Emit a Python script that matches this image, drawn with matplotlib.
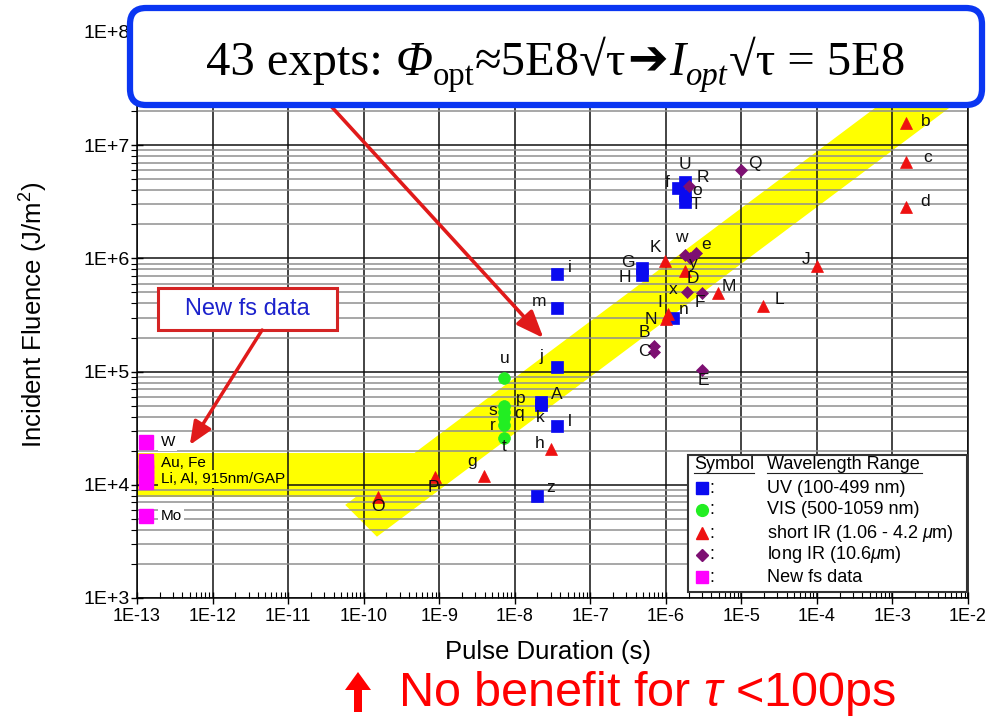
import numpy as np
import matplotlib
matplotlib.use("Agg")
import matplotlib.pyplot as plt
from matplotlib import ticker
from matplotlib.patches import FancyBboxPatch, Rectangle, FancyArrow
from matplotlib.transforms import IdentityTransform

plt.rcParams['font.family'] = ['Liberation Sans', 'DejaVu Sans']
plt.rcParams['mathtext.fontset'] = 'custom'
plt.rcParams['mathtext.rm'] = 'Liberation Sans'
plt.rcParams['mathtext.it'] = 'Liberation Sans:italic'

# --- experiments: pulse duration (s), incident fluence (J/m^2), tag ---
uv_names = ['i', 'm', 'j', 'A', 'k', 'l', 'z', 'G', 'H', 'n', 'U', 'f', 'o', 'T']
uv_tau = [3.65e-8, 3.65e-8, 3.65e-8, 2.2e-8, 2.2e-8, 3.65e-8, 2.0e-8,
          4.9e-7, 4.9e-7, 1.26e-6, 1.8e-6, 1.47e-6, 1.8e-6, 1.8e-6]
uv_flu = [7.3e5, 3.65e5, 1.1e5, 5.4e4, 5.1e4, 3.3e4, 8.0e3,
          8.2e5, 7.2e5, 3.0e5, 4.7e6, 4.2e6, 3.6e6, 3.15e6]

vis_names = ['u', 'p', 's', 'q', 'r', 't']
vis_tau = [7.3e-9, 7.3e-9, 7.3e-9, 7.3e-9, 7.3e-9, 7.3e-9]
vis_flu = [8.8e4, 5.0e4, 4.4e4, 3.9e4, 3.4e4, 2.6e4]

sir_names = ['b', 'c', 'd', 'J', 'K', 'D', 'M', 'L', 'I', 'N', 'h', 'g', 'P', 'O', 'S']
sir_tau = [1.53e-3, 1.53e-3, 1.53e-3, 1.0e-4, 9.8e-7, 1.8e-6, 4.95e-6, 1.95e-5,
           1.08e-6, 1.0e-6, 3.04e-8, 3.95e-9, 8.9e-10, 1.56e-10, 1.0e-4]
sir_flu = [1.57e7, 7.1e6, 2.85e6, 8.6e5, 9.5e5, 7.7e5, 4.9e5, 3.8e5,
           3.2e5, 2.9e5, 2.07e4, 1.2e4, 1.17e4, 7.8e3, 2.8e7]

lir_names = ['Q', 'R', 'w', 'e', 'y', 'x', 'F', 'B', 'C', 'E']
lir_tau = [1.0e-5, 2.0e-6, 1.8e-6, 2.5e-6, 2.1e-6, 1.93e-6, 3.04e-6, 7.05e-7, 7.05e-7, 3.04e-6]
lir_flu = [6.0e6, 4.4e6, 1.07e6, 1.12e6, 1.0e6, 5.05e5, 4.9e5, 1.68e5, 1.49e5, 1.03e5]

fs_names = ['W', 'Au', 'Fe', 'Li', 'Al', 'GAP', 'Mo']
fs_tau = [1.3e-13, 1.3e-13, 1.3e-13, 1.3e-13, 1.3e-13, 1.3e-13, 1.3e-13]
fs_flu = [2.4e4, 1.62e4, 1.45e4, 1.3e4, 1.18e4, 1.06e4, 5.3e3]
fs_text = {'W': 'W', 'Au': 'Au, Fe', 'Li': 'Li, Al, 915nm/GAP', 'Mo': 'Mo'}

legend_labels = ['UV (100-499 nm)', 'VIS (500-1059 nm)', r'short IR (1.06 - 4.2 $\mu$m)',
                 r'long IR (10.6$\mu$m)', 'New fs data']

# optimum fluence line: Phi = 5E8 * sqrt(tau)
phi_coef = 5e8
band_factor = 1.76
band_start_upper = 5.7e-11   # the band's lower-left end is cut at a slant
band_start_lower = 1.5e-10

# tag placement (pixels from the marker, y up)
tag_offsets = {
    'i': (13, 6), 'm': (-18, 6), 'j': (-16, 10), 'A': (16, 7), 'k': (0, -13), 'l': (13, 5),
    'z': (13, 8), 'G': (-15, 6), 'H': (-18, -3), 'n': (10, 8), 'U': (0, 18), 'f': (-11, 5),
    'o': (12, 5), 'T': (11, -3),
    'u': (0, 19), 'p': (16, 7), 's': (-12, 1), 'q': (15, 4), 'r': (-12, -1), 't': (0, -9),
    'b': (19, 2), 'c': (21, 5), 'd': (19, 5), 'J': (-11, 6), 'K': (-10, 13), 'D': (8, -7),
    'M': (11, 7), 'L': (16, 6), 'I': (-9, 12), 'N': (-15, 0), 'h': (-12, 6), 'g': (-12, 14),
    'P': (-2, -10), 'O': (0, -9), 'S': (5, -8),
    'Q': (14, 7), 'R': (14, 8), 'w': (-4, 18), 'e': (10, 8), 'y': (3, -5), 'x': (-14, 2),
    'F': (-2, -9), 'B': (-10, 14), 'C': (-10, 0), 'E': (1, -10),
}

BLUE = '#0a0af0'
GREEN = '#22ee22'
RED = '#ee1111'
PURPLE = '#7d0f72'
MAGENTA = '#ff00ff'
YELLOW = '#ffff00'

fig = plt.figure(figsize=(9.91, 7.2), dpi=100)
ax = fig.add_axes([137 / 991, 122 / 720, 831 / 991, 566 / 720])
ax.set_xscale('log')
ax.set_yscale('log')
ax.set_xlim(1e-13, 1e-2)
ax.set_ylim(1e3, 1e8)

fmt = ticker.FuncFormatter(lambda v, pos: f"1E{int(round(np.log10(v))):+d}")
ax.xaxis.set_major_locator(ticker.LogLocator(base=10, numticks=20))
ax.xaxis.set_minor_locator(ticker.LogLocator(base=10, subs=np.arange(2, 10), numticks=200))
ax.yaxis.set_major_locator(ticker.LogLocator(base=10, numticks=20))
ax.yaxis.set_minor_locator(ticker.LogLocator(base=10, subs=np.arange(2, 10), numticks=200))
ax.xaxis.set_major_formatter(fmt)
ax.yaxis.set_major_formatter(fmt)
ax.xaxis.set_minor_formatter(ticker.NullFormatter())
ax.yaxis.set_minor_formatter(ticker.NullFormatter())
ax.tick_params(axis='x', which='major', direction='inout', length=8, width=1, labelsize=13, pad=3)
ax.tick_params(axis='x', which='minor', direction='in', length=4, width=0.8)
ax.tick_params(axis='y', which='major', direction='inout', length=8, width=1, labelsize=14, pad=1)
ax.tick_params(axis='y', which='minor', direction='out', length=4, width=0.8)

ax.set_axisbelow(True)
ax.grid(which='major', axis='both', color='#111111', lw=1.1)
ax.grid(which='minor', axis='y', color='#8f8f8f', lw=1.1)
for sp in ax.spines.values():
    sp.set_linewidth(1.1)

# yellow band around the optimum line plus the flat fs region
tau_up = np.logspace(np.log10(band_start_upper), -2, 60)
tau_lo = np.logspace(np.log10(band_start_lower), -2, 60)
band_x = np.concatenate([tau_up, tau_lo[::-1]])
band_y = np.concatenate([phi_coef * np.sqrt(tau_up) * band_factor,
                         phi_coef * np.sqrt(tau_lo[::-1]) / band_factor])
ax.fill(band_x, band_y, color=YELLOW, lw=0, zorder=0.3)
ax.fill_between([1e-13, 5e-10], [7.8e3, 7.8e3], [1.9e4, 1.9e4], color=YELLOW, lw=0, zorder=0.3)


def plot_group(tau, flu, names, marker, color, ms):
    ax.plot(tau, flu, ls='none', marker=marker, ms=ms, color=color, mec=color, mew=0.5, zorder=4)
    for t, f, n in zip(tau, flu, names):
        if n not in tag_offsets:
            continue
        dx, dy = tag_offsets[n]
        ax.annotate(n, (t, f), xytext=(dx, dy), textcoords='offset pixels',
                    ha='center', va='center', fontsize=12.5, color='#111111', zorder=5)


plot_group(uv_tau, uv_flu, uv_names, 's', BLUE, 8.5)
plot_group(vis_tau, vis_flu, vis_names, 'o', GREEN, 8.5)
plot_group(sir_tau, sir_flu, sir_names, '^', RED, 8.5)
plot_group(lir_tau, lir_flu, lir_names, 'D', PURPLE, 6.3)
ax.plot(fs_tau, fs_flu, ls='none', marker='s', ms=9.5, color=MAGENTA, zorder=4)
for t, f, n in zip(fs_tau, fs_flu, fs_names):
    if n not in fs_text:
        continue
    dy = {'W': 0, 'Au': -2, 'Li': -7, 'Mo': 0}[n]
    bg = YELLOW if n in ('Au', 'Li') else 'white'
    ax.annotate(fs_text[n], (t, f), xytext=(15, dy), textcoords='offset pixels',
                ha='left', va='center', fontsize=11, zorder=5,
                bbox=dict(boxstyle='square,pad=0.15', fc=bg, ec='none'))

# "New fs data" call-out
ax.add_patch(Rectangle((0.0253, 0.4735), 0.2154, 0.0742, transform=ax.transAxes,
                       fc='white', ec='#d42424', lw=2.2, zorder=6))
ax.text(0.133, 0.511, 'New fs data', transform=ax.transAxes, ha='center', va='center',
        fontsize=17, color='#1c22cc', zorder=7)
ax.annotate('', xy=(5.0e-13, 2.25e4), xytext=(4.53e-12, 2.33e5),
            arrowprops=dict(arrowstyle='-|>,head_length=0.7,head_width=0.3', color='#e01a1a',
                            lw=2.5, mutation_scale=20, shrinkA=0, shrinkB=0), zorder=6)

# arrow from the headline box down to the band
ax.annotate('', xy=(2.4e-8, 1.98e5), xytext=(1.06e-11, 5.5e7),
            arrowprops=dict(arrowstyle='-|>,head_length=0.75,head_width=0.3', color='#e01a1a',
                            lw=2.6, mutation_scale=22, shrinkA=0, shrinkB=0),
            annotation_clip=False, zorder=6)

# legend drawn by hand: symbol column + wavelength column
lx0, lx1, ly0, ly1 = 0.663, 0.9988, 0.0106, 0.2527
ax.add_patch(Rectangle((lx0, ly0), lx1 - lx0, ly1 - ly0, transform=ax.transAxes,
                       fc='white', ec='#333333', lw=1.5, zorder=6))
ax.text(0.6705, 0.2367, 'Symbol', transform=ax.transAxes, ha='left', va='center', fontsize=13, zorder=7)
ax.text(0.7581, 0.2367, 'Wavelength Range', transform=ax.transAxes, ha='left', va='center',
        fontsize=13, zorder=7)
ax.plot([0.6705, 0.7425], [0.2215, 0.2215], transform=ax.transAxes, color='#222222', lw=0.8,
        clip_on=False, zorder=7)
ax.plot([0.7581, 0.9445], [0.2215, 0.2215], transform=ax.transAxes, color='#222222', lw=0.8,
        clip_on=False, zorder=7)
row_y = [0.1943, 0.1555, 0.1148, 0.0760, 0.0371]
row_style = [('s', BLUE, 8.5), ('o', GREEN, 8.5), ('^', RED, 8.5), ('D', PURPLE, 6.3), ('s', MAGENTA, 8.5)]
for yy, (mk, col, ms), lab in zip(row_y, row_style, legend_labels):
    ax.plot([0.6799], [yy], transform=ax.transAxes, marker=mk, ms=ms, color=col, ls='none',
            clip_on=False, zorder=7)
    ax.text(0.6885, yy, ':', transform=ax.transAxes, ha='left', va='center', fontsize=13, zorder=7)
    ax.text(0.7581, yy, lab, transform=ax.transAxes, ha='left', va='center', fontsize=13, zorder=7)

ax.set_xlabel('Pulse Duration (s)', fontsize=18.5)
ax.xaxis.set_label_coords(0.494, -0.074)
ax.set_ylabel('Incident Fluence (J/m$^2$)', fontsize=18.5)
ax.yaxis.set_label_coords(-0.105, 0.5)

# headline box on top
px = IdentityTransform()
fig.add_artist(FancyBboxPatch((130, 720 - 105), 852, 97, boxstyle='round,pad=0,rounding_size=16',
                              transform=px, fc='white', ec='#0a36f2', lw=4.5, zorder=2))

renderer = fig.canvas.get_renderer()
serif = ['Liberation Serif', 'DejaVu Serif']
pieces = [
    ('43 expts:', dict(family=serif, size=35), 0, 12),
    ('Φ', dict(family=serif, size=35, style='italic'), 0, 0),
    ('opt', dict(family=serif, size=23.5), -10, 1),
    ('≈5E8√τ', dict(family=serif, size=35), 0, 1),
    ('➔', dict(family=['DejaVu Sans'], size=35, weight='bold'), 1, 1),
    ('I', dict(family=serif, size=35, style='italic'), 0, 0),
    ('opt', dict(family=serif, size=23.5, style='italic'), -10, 2),
    ('√τ = 5E8', dict(family=serif, size=35), 0, 0),
]
base_y = 720 - 75
arts = []
x = 0.0
for s, kw, dy, gap in pieces:
    t = fig.text(x, base_y + dy, s, transform=px, ha='left', va='baseline', zorder=3, **kw)
    w = t.get_window_extent(renderer).width
    arts.append((t, x))
    x += w + gap
shift = 556 - x / 2
for t, x0 in arts:
    t.set_x(x0 + shift)

# bottom remark
fig.add_artist(FancyArrow(358, 8, 0, 40, width=8, head_width=26, head_length=18,
                          length_includes_head=True, transform=px, color='#ff0000', lw=0))
fig.text(398, 720 - 706, r'No benefit for $\tau$ <100ps', transform=px, ha='left', va='baseline',
         fontsize=35, color='#ff0000')

fig.savefig('out.png', dpi=100)
